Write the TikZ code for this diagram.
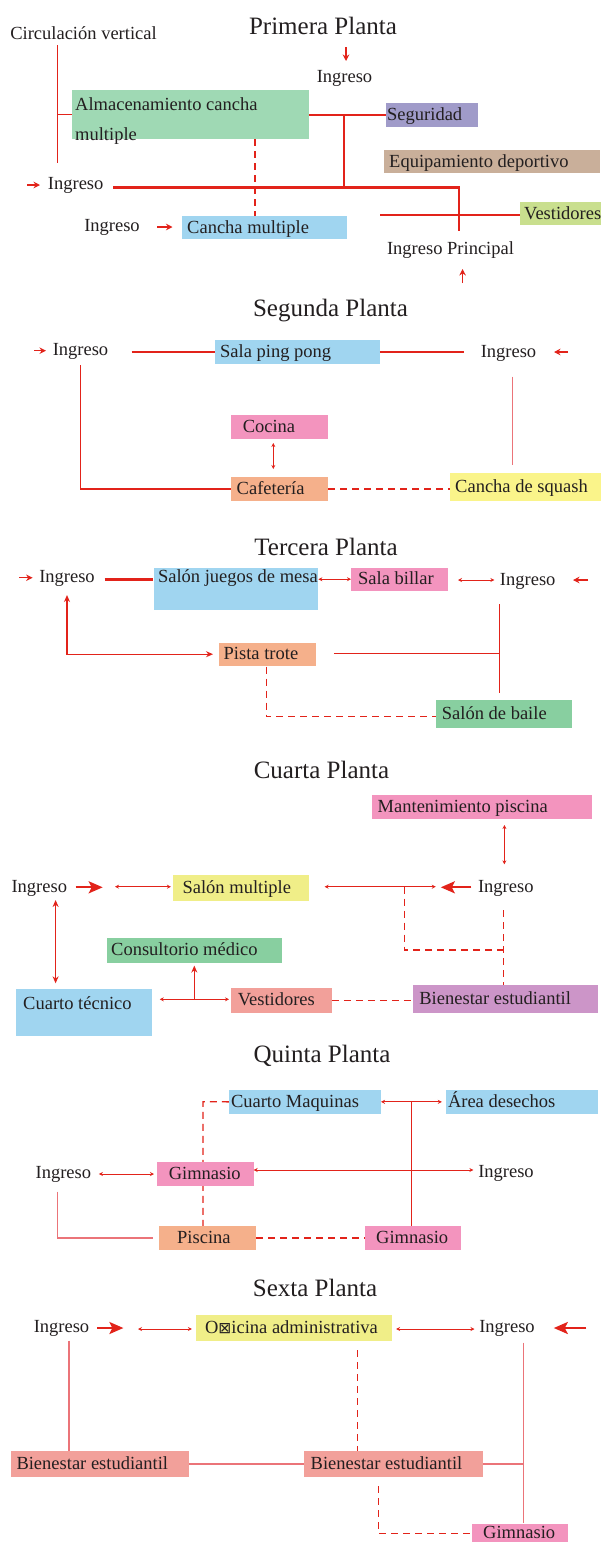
\documentclass[tikz,border=0pt]{standalone}
\usepackage{fontspec}
\setmainfont{Liberation Serif}
\newfontfamily\djv{DejaVu Sans}
\usetikzlibrary{arrows.meta,calc,backgrounds}
\definecolor{redA}{HTML}{E2231A}
\definecolor{redB}{HTML}{EB7479}
\definecolor{ink}{HTML}{231F20}
\definecolor{cgreen}{HTML}{9FD9B4}
\definecolor{cpurple}{HTML}{A09BC9}
\definecolor{ctan}{HTML}{C9AF9A}
\definecolor{clime}{HTML}{C9DF8E}
\definecolor{cblue}{HTML}{A0D5F0}
\definecolor{cpink}{HTML}{F394BE}
\definecolor{corange}{HTML}{F5B08B}
\definecolor{cyellow}{HTML}{FAF48A}
\definecolor{cyellowb}{HTML}{F0EE88}
\definecolor{cgreenb}{HTML}{88CFA0}
\definecolor{csalmon}{HTML}{F2A09A}
\definecolor{cmauve}{HTML}{CC95C8}
\pgfdeclarelayer{bgzero}
\pgfsetlayers{bgzero,background,main}
\tikzset{
 txt/.style={inner sep=0pt, text=ink, font=\fontsize{18.5}{22}\selectfont},
 lbl/.style={txt, yshift=-1.5pt},
 ttl/.style={inner sep=0pt, text=ink, font=\fontsize{25}{28}\selectfont},
 boxst/.style={draw=none, inner sep=0pt, anchor=north west},
 ln/.style={draw=redA, line width=1.3pt},
 thk/.style={draw=redA, line width=2.4pt},
 lt/.style={draw=redB, line width=1.3pt},
 dsh/.style={draw=redA, line width=1.3pt, dash pattern=on 7pt off 5pt},
 ent/.style={draw=redA, line width=1.3pt, -{Stealth[length=6.5pt,width=6.5pt]}},
 bigarr/.style={draw=redA, line width=2.2pt, -{Stealth[length=14pt,width=12pt,inset=3pt]}},
 dbl/.style={draw=redA, line width=1pt, {Stealth[length=4pt,width=4pt]}-{Stealth[length=4pt,width=4pt]}},
 dblm/.style={draw=redA, line width=1.3pt, {Stealth[length=7pt,width=6pt]}-{Stealth[length=7pt,width=6pt]}},
 upa/.style={draw=redA, line width=1.3pt, -{Stealth[length=7pt,width=6pt]}},
}
\newcommand\rbox[8]{%
 \node[boxst, fill=#6, minimum width={(#4-#2)*1pt}, minimum height={(#5-#3)*1pt}] (#1) at (#2,#3) {};
 \node[txt, anchor=base west] (#1t) at ($(#1.west)+(#7,5.5)$) {#8};
}
\newcommand\tbox[9]{%
 \node[boxst, fill=#6, minimum width={(#4-#2)*1pt}, minimum height={(#5-#3)*1pt}] (#1) at (#2,#3) {};
 \node[txt, anchor=base west] (#1t) at (#2+#7,#8) {#9};
}
\begin{document}
\begin{tikzpicture}[x=1pt,y=-1pt]
\begin{pgfonlayer}{bgzero}
\fill[white] (0,0) rectangle (601,1542);
\end{pgfonlayer}
\useasboundingbox (0,0) rectangle (601,1542);

% ---------------- Primera Planta
\node[ttl] (t1) at (323,26) {Primera Planta};
\node[lbl] (cv) at (83.5,32) {Circulación vertical};
\node[boxst, fill=cgreen, minimum width=237pt, minimum height=49pt] (alm) at (72,90) {};
\node[txt, anchor=north west, align=left, font=\fontsize{18.5}{30}\selectfont] (almt) at (75,97.5) {Almacenamiento cancha\\multiple};
\coordinate (cvt) at (57.5,45); \coordinate (cvb) at (57.5,163);
\draw[ln] (cvt) -- (cvb);
\draw[ln] (cvt |- alm.west) -- (alm.west);
\coordinate (a1s) at (346,47); \coordinate (a1e) at (346,61);
\draw[ent] (a1s) -- (a1e);
\node[lbl] (ing1) at (344.5,77) {Ingreso};
\rbox{seg}{386}{103}{478}{127}{cpurple}{1}{Seguridad}
\draw[thk] (alm.east) -- (alm.east -| seg.west);
\coordinate (j1) at (344,114.5); \coordinate (j2) at (344,187.5);
\draw[thk] (j1) -- (j2);
\rbox{equ}{384}{150}{600}{173}{ctan}{5}{Equipamiento deportivo}
\coordinate (e1s) at (27,185); \coordinate (e1e) at (40,185);
\draw[ent] (e1s) -- (e1e);
\node[lbl] (ing2) at (75.7,184) {Ingreso};
\coordinate (h1a) at (113,187.5); \coordinate (h1b) at (459,187.5); \coordinate (h1c) at (459,231);
\draw[thk] (h1a) -- (h1b) -- (h1c);
\rbox{vesa}{520}{202}{601}{225}{clime}{4}{Vestidores}
\coordinate (v1a) at (380,215);
\draw[thk] (v1a) -- (v1a -| vesa.west);
\rbox{can}{182}{216}{347}{239}{cblue}{5}{Cancha multiple}
\coordinate (d1) at (255,139);
\draw[dsh] (d1) -- (d1 |- can.north);
\node[lbl] (ing3) at (112,226) {Ingreso};
\coordinate (e2s) at (157,227); \coordinate (e2e) at (172.5,227);
\draw[ent] (e2s) -- (e2e);
\node[lbl] (ingp) at (450.5,249) {Ingreso Principal};
\coordinate (e3s) at (462.6,283); \coordinate (e3e) at (462.6,269);
\draw[ent] (e3s) -- (e3e);

% ---------------- Segunda Planta
\node[ttl] (t2) at (330.5,311) {Segunda Planta};
\coordinate (e4s) at (34,350.7); \coordinate (e4e) at (46,350.7);
\draw[ent] (e4s) -- (e4e);
\node[lbl] (ing4) at (80.5,350) {Ingreso};
\rbox{sala}{215}{340}{379.5}{363.3}{cblue}{5}{Sala ping pong}
\coordinate (s2a) at (131.5,352);
\draw[thk] (s2a) -- (s2a -| sala.west);
\coordinate (s2b) at (463.8,352);
\draw[thk] (s2b -| sala.east) -- (s2b);
\node[lbl] (ing5) at (508.5,351.7) {Ingreso};
\coordinate (e5s) at (568,352); \coordinate (e5e) at (554,352);
\draw[ent] (e5s) -- (e5e);
\coordinate (s2c) at (512.8,376.7); \coordinate (s2d) at (512.8,465);
\draw[lt] (s2c) -- (s2d);
\rbox{coc}{231}{415}{327.7}{438.3}{cpink}{11.6}{Cocina}
\rbox{caf}{231}{476.7}{327.7}{500.7}{corange}{5.5}{Cafetería}
\rbox{squ}{450}{472.7}{601}{500.7}{cyellow}{5}{Cancha de squash}
\coordinate (s2e) at (80.5,365);
\draw[ln] (s2e) |- (caf.west);
\coordinate (s2f) at (273.3,443); \coordinate (s2g) at (273.3,469);
\draw[dbl] (s2f) -- (s2g);
\draw[dsh] (caf.east) -- (caf.east -| squ.west);

% ---------------- Tercera Planta
\node[ttl] (t3) at (326,547) {Tercera Planta};
\coordinate (e6s) at (19,577.7); \coordinate (e6e) at (32.6,577.7);
\draw[ent] (e6s) -- (e6e);
\node[lbl] (ing6) at (67,577) {Ingreso};
\tbox{jue}{153.3}{567.3}{318}{609.3}{cblue}{4.5}{582}{Salón juegos de mesa}
\rbox{bil}{351}{567.3}{447.7}{590.7}{cpink}{7}{Sala billar}
\coordinate (t3a) at (104.6,579.3);
\draw[thk] (t3a) -- (t3a -| jue.west);
\draw[dbl] (jue.east |- bil.west) -- (bil.west);
\coordinate (t3b) at (458,580); \coordinate (t3c) at (494.4,580);
\draw[dbl] (t3b) -- (t3c);
\node[lbl] (ing7) at (527.7,580) {Ingreso};
\coordinate (e7s) at (588,580); \coordinate (e7e) at (573,580);
\draw[ent] (e7s) -- (e7e);
\rbox{pis}{219}{642.3}{315.5}{665.7}{corange}{4.5}{Pista trote}
\coordinate (t3d) at (67,595);
\draw[dblm, shorten >=6pt] (t3d) |- (pis.west);
\coordinate (t3e) at (333.8,653.3); \coordinate (t3f) at (499.4,653.3);
\draw[ln] (t3e) -- (t3f);
\coordinate (t3g) at (499.4,604); \coordinate (t3h) at (499.4,692.7);
\draw[ln] (t3g) -- (t3h);
\rbox{bai}{436.2}{700}{571.9}{727.3}{cgreenb}{5.5}{Salón de baile}
\coordinate (t3i) at (266.4,666.7); \coordinate (t3j) at (266.4,716.7);
\draw[dsh] (t3i) -- (t3j) -- (t3j -| bai.west);

% ---------------- Cuarta Planta
\node[ttl] (t4) at (321.5,770) {Cuarta Planta};
\rbox{man}{372}{795}{592}{818.3}{cpink}{5.5}{Mantenimiento piscina}
\coordinate (c4a) at (504.4,825); \coordinate (c4b) at (504.4,864.3);
\draw[dbl] (c4a) -- (c4b);
\node[lbl] (ing8) at (39.3,886.7) {Ingreso};
\coordinate (b1s) at (75.5,887.3); \coordinate (b1e) at (102.7,887.3);
\draw[bigarr] (b1s) -- (b1e);
\rbox{mul}{172.9}{875}{309}{900.7}{cyellowb}{9.5}{Salón multiple}
\coordinate (c4c) at (115,886.7);
\draw[dbl, shorten >=2pt] (c4c) -- (c4c -| mul.west);
\coordinate (c4d) at (324.6,886.7); \coordinate (c4e) at (435.8,886.7);
\draw[dbl] (c4d) -- (c4e);
\coordinate (b2s) at (471.4,887.3); \coordinate (b2e) at (440.8,887.3);
\draw[bigarr] (b2s) -- (b2e);
\node[lbl] (ing9) at (505.8,886.7) {Ingreso};
\rbox{bie}{413.2}{985}{598}{1012.7}{cmauve}{6}{Bienestar estudiantil}
\coordinate (c4j) at (404.4,886.7); \coordinate (c4k) at (404.4,950); \coordinate (c4l) at (503.3,950);
\draw[dsh] (c4j) -- (c4k) -- (c4l);
\coordinate (c4m) at (503.3,910);
\draw[dsh] (c4m) -- (c4m |- bie.north);
\coordinate (c4f) at (55.6,900); \coordinate (c4g) at (55.6,983.3);
\draw[dblm] (c4f) -- (c4g);
\rbox{con}{107}{937.3}{282}{962.7}{cgreenb}{4}{Consultorio médico}
\tbox{tec}{16}{989}{152}{1035.7}{cblue}{7}{1009}{Cuarto técnico}
\rbox{ves}{231}{987.3}{331.5}{1012.7}{csalmon}{6.6}{Vestidores}
\coordinate (c4h) at (159.8,999.3);
\draw[dbl, shorten >=2pt] (c4h) -- (c4h -| ves.west);
\coordinate (c4i) at (194.3,999.3);
\draw[upa, shorten >=2.5pt] (c4i) -- (c4i |- con.south);
\draw[dsh] (ves.east) -- (ves.east -| bie.west);

% ---------------- Quinta Planta
\node[ttl] (t5) at (322,1056) {Quinta Planta};
\rbox{maq}{228.8}{1090}{380.6}{1113.3}{cblue}{2}{Cuarto Maquinas}
\rbox{des}{445.8}{1090}{598}{1113.3}{cblue}{2}{Área desechos}
\draw[dbl, shorten >=4pt] (maq.east) -- (maq.east -| des.west);
\node[lbl] (ing10) at (63.4,1172.7) {Ingreso};
\rbox{gma}{157}{1161.7}{253.7}{1185.7}{cpink}{11.6}{Gimnasio}
\rbox{pcn}{159}{1226}{255.7}{1249.3}{corange}{18}{Piscina}
\rbox{gmb}{365}{1226}{461}{1249.3}{cpink}{11}{Gimnasio}
\begin{pgfonlayer}{background}
\coordinate (q5c) at (203,1101.7);
\draw[dsh] (maq.west) -- (q5c) -- (q5c |- pcn.north);
\end{pgfonlayer}
\coordinate (q5a) at (411.3,1101.7);
\draw[ln] (q5a) -- (q5a |- gmb.north);
\coordinate (q5e) at (98.9,1174);
\draw[dbl, shorten >=3pt] (q5e) -- (q5e -| gma.west);
\coordinate (q5f) at (253.7,1170); \coordinate (q5g) at (473.4,1170);
\draw[dbl] (q5f) -- (q5g);
\node[lbl] (ing11) at (506,1172) {Ingreso};
\coordinate (q5h) at (57.5,1191.7);
\draw[lt, shorten >=5.7pt] (q5h) |- (pcn.west);
\draw[dsh] (pcn.east) -- (gmb.west);

% ---------------- Sexta Planta
\node[ttl] (t6) at (315,1288) {Sexta Planta};
\node[lbl] (ing12) at (61.5,1327.3) {Ingreso};
\coordinate (b3s) at (97,1328); \coordinate (b3e) at (123.4,1328);
\draw[bigarr] (b3s) -- (b3e);
\rbox{ofi}{195.9}{1315}{391.7}{1340.7}{cyellowb}{9}{O{\djv\fontsize{15.5}{15.5}\selectfont ⊠}icina administrativa}
\coordinate (x6a) at (138,1329);
\draw[dbl, shorten >=4pt] (x6a) -- (x6a -| ofi.west);
\coordinate (x6b) at (474.5,1329);
\draw[dbl, shorten <=4pt] (ofi.east |- x6b) -- (x6b);
\node[lbl] (ing13) at (507,1327) {Ingreso};
\coordinate (b4s) at (586.4,1328); \coordinate (b4e) at (553.8,1328);
\draw[bigarr] (b4s) -- (b4e);
\rbox{bea}{10.3}{1451}{188.6}{1476.7}{csalmon}{6}{Bienestar estudiantil}
\rbox{beb}{304}{1451}{482.6}{1476.7}{csalmon}{6.5}{Bienestar estudiantil}
\rbox{gmc}{471.4}{1523.3}{567.3}{1542}{cpink}{11.6}{Gimnasio}
\coordinate (x6c) at (69,1340.7);
\draw[lt] (x6c) -- (x6c |- bea.north);
\coordinate (x6d) at (357.6,1350);
\draw[dsh] (x6d) -- (x6d |- beb.north);
\coordinate (x6e) at (523.2,1342.7);
\draw[lt] (x6e) -- (x6e |- gmc.north);
\draw[lt] (bea.east) -- (beb.west);
\draw[lt] (beb.east) -- (beb.east -| x6e);
\coordinate (x6f) at (378.7,1486); \coordinate (x6g) at (378.7,1533.3);
\draw[dsh] (x6f) -- (x6g) -- (x6g -| gmc.west);
\end{tikzpicture}
\end{document}
